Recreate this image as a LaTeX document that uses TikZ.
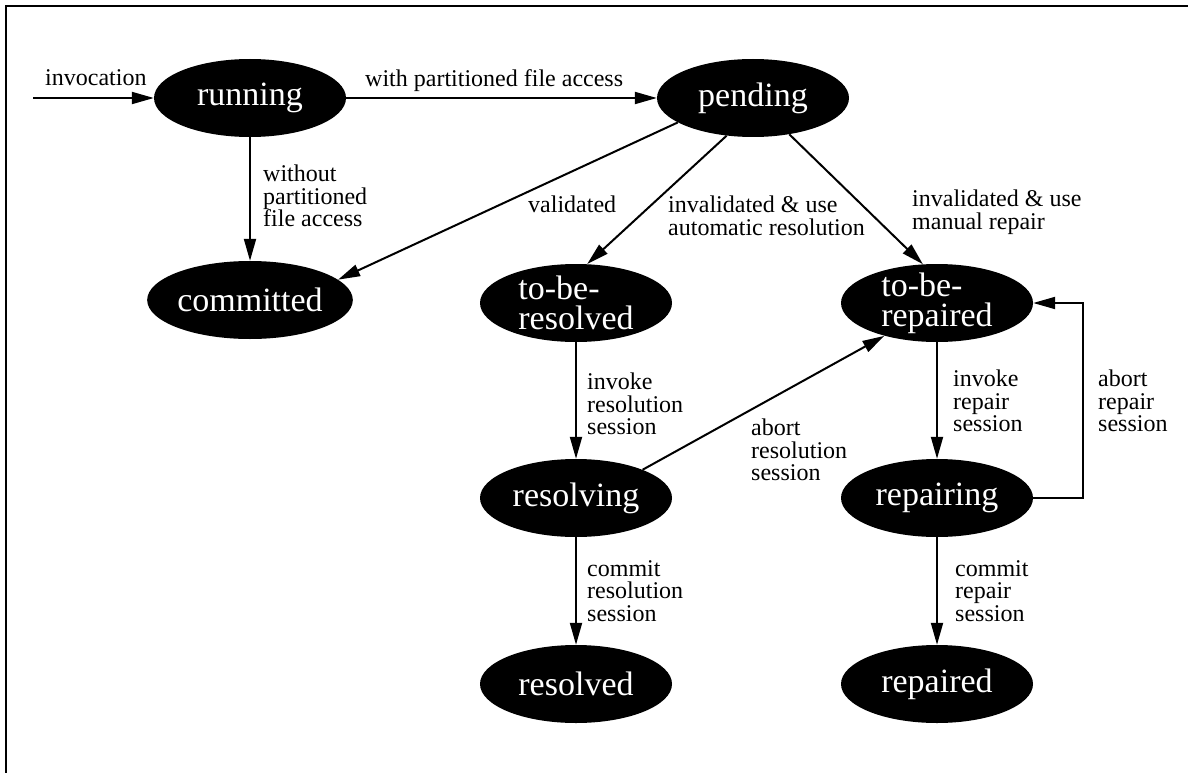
\documentclass[tikz,border=0pt]{standalone}
\usepackage{fontspec}
\setmainfont{Liberation Serif}
\usetikzlibrary{arrows.meta,shapes.geometric}
\begin{document}
\begin{tikzpicture}[x=1pt,y=-1pt,
  state/.style={ellipse, fill=black, text=white, minimum width=192pt,
    minimum height=78pt, inner xsep=0pt, inner ysep=-10pt,
    font=\fontsize{34}{30}\selectfont, align=left},
  lbl/.style={anchor=west, align=left, inner sep=0pt,
    font=\fontsize{24}{22.5}\selectfont},
  edge/.style={line width=2pt, -{Triangle[length=22pt,width=12pt]}},
]
\useasboundingbox (0,0) rectangle (1188,773);
% open frame: top and left rules
\draw[line width=2pt] (6,773) -- (6,6) -- (1188,6);

% states
\node[state] (run)   at (250,98)  {running};
\node[state] (pend)  at (753,98)  {pending};
\node[state] (comm)  at (250,300) {committed};
\node[state] (tbres) at (576,303) {to-be-\\resolved};
\node[state] (tbrep) at (937,303) {to-be-\\repaired};
\node[state] (rslv)  at (576,498) {resolving};
\node[state] (rpr)   at (937,498) {repairing};
\node[state] (rsd)   at (576,684) {resolved};
\node[state] (rpd)   at (937,684) {repaired};

% transitions
\coordinate (inv) at (33,98);
\coordinate (loopx) at (1083,400);
\draw[edge] (inv) -- (run);
\draw[edge] (run) -- (pend);
\draw[edge] (run) -- (comm);
\draw[edge] (pend.198) -- (comm.13);
\draw[edge] (pend.235) -- (tbres.74);
\draw[edge] (pend.315) -- (tbrep.110);
\draw[edge] (tbres) -- (rslv);
\draw[edge] (rslv.23) -- (tbrep.212);
\draw[edge] (tbrep) -- (rpr);
\draw[edge] (rpr.east) -| (loopx |- tbrep.east) -- (tbrep.east);
\draw[edge] (rslv) -- (rsd);
\draw[edge] (rpr) -- (rpd);

% transition labels
\node[lbl] (l1)  at (45,78)   {invocation};
\node[lbl] (l2)  at (365,81)  {with partitioned file access};
\node[lbl] (l3)  at (263,196) {without\\partitioned\\file access};
\node[lbl] (l4)  at (528,204) {validated};
\node[lbl] (l5)  at (668,216) {invalidated \& use\\automatic resolution};
\node[lbl] (l6)  at (912,212) {invalidated \& use\\manual repair};
\node[lbl] (l7)  at (587,404) {invoke\\resolution\\session};
\node[lbl] (l8)  at (751,450) {abort\\resolution\\session};
\node[lbl] (l9)  at (953,401) {invoke\\repair\\session};
\node[lbl] (l10) at (1098,401) {abort\\repair\\session};
\node[lbl] (l11) at (587,591) {commit\\resolution\\session};
\node[lbl] (l12) at (955,591) {commit\\repair\\session};
\end{tikzpicture}
\end{document}
